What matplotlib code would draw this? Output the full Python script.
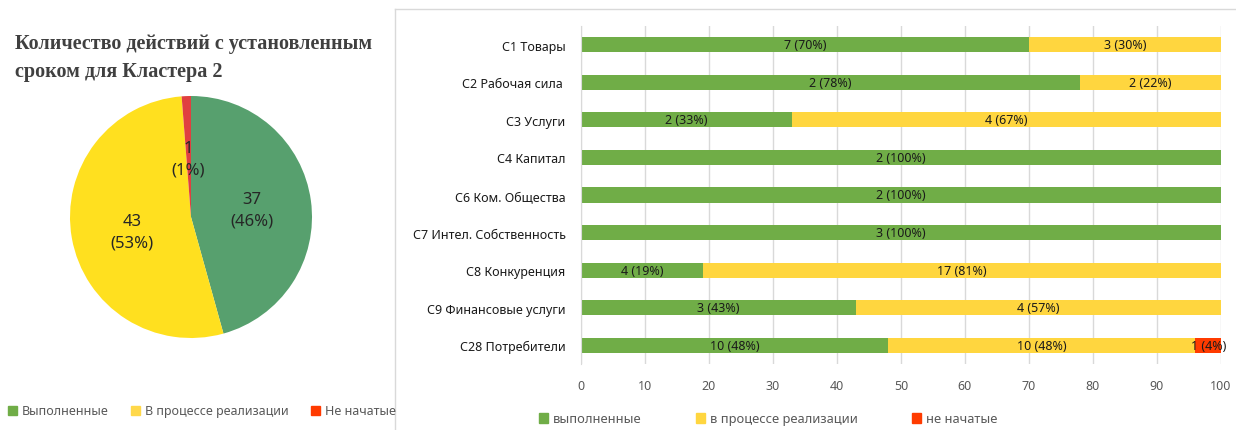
import numpy as np
import matplotlib.pyplot as plt
from matplotlib.patches import Patch
from matplotlib.lines import Line2D

# pie data (cluster 2 totals)
pie_labels = ["Выполненные", "В процессе реализации", "Не начатые"]
pie_values = [37, 43, 1]
pie_pcts = [46, 53, 1]

# bar data: percentage shares and counts per chapter
categories = ["С1 Товары", "С2 Рабочая сила ", "С3 Услуги", "С4 Капитал",
              "С6 Ком. Общества", "С7 Интел. Собственность", "С8 Конкуренция",
              "С9 Финансовые услуги", "С28 Потребители"]
done_pct = [70, 78, 33, 100, 100, 100, 19, 43, 48]
prog_pct = [30, 22, 67, 0, 0, 0, 81, 57, 48]
ns_pct = [0, 0, 0, 0, 0, 0, 0, 0, 4]
done_cnt = [7, 2, 2, 2, 2, 3, 4, 3, 10]
prog_cnt = [3, 2, 4, 0, 0, 0, 17, 4, 10]
ns_cnt = [0, 0, 0, 0, 0, 0, 0, 0, 1]
bar_legend = ["выполненные", "в процессе реализации", "не начатые"]
xticks = [0, 10, 20, 30, 40, 50, 60, 70, 80, 90, 100]

FONT = ["Noto Sans", "DejaVu Sans"]
plt.rcParams["font.family"] = FONT

W, H = 1236, 431
fig = plt.figure(figsize=(W / 100, H / 100), dpi=100)

def box(x0, y0, x1, y1):
    # pixel box (top-left origin) -> figure fraction
    return [x0 / W, 1 - y1 / H, (x1 - x0) / W, (y1 - y0) / H]

# ---- left: pie ----
fig.text(15 / W, 1 - 58 / H, "Количество действий с установленным\nсроком для Кластера 2",
         family=["Liberation Serif"], fontweight="bold", fontsize=14.5, color="#404040",
         va="center", ha="left", linespacing=1.6)

pie_colors = ["#57A06E", "#FFE01F", "#E04040"]
axp = fig.add_axes(box(70, 97, 312, 339))
axp.pie(pie_values, colors=pie_colors, startangle=90, counterclock=False,
        wedgeprops=dict(linewidth=0))
axp.set_xlim(-1, 1)
axp.set_ylim(-1, 1)
axp.set_aspect("equal")
label_pos = [(0.5, 0.06), (-0.49, -0.12), (-0.02, 0.48)]
for v, p, (lx, ly) in zip(pie_values, pie_pcts, label_pos):
    axp.text(lx, ly, f"{v}\n({p}%)", ha="center", va="center", fontsize=12,
             color="#262626", linespacing=1.45)

leg_colors = ["#70AD47", "#FFD84A", "#FF3A00"]
fig.legend(handles=[Patch(color=c, label=l) for c, l in zip(leg_colors, pie_labels)],
           loc="center left", bbox_to_anchor=(-3 / W, 1 - 412 / H), ncol=3, frameon=False,
           handlelength=0.7, handleheight=0.7, handletextpad=0.4, columnspacing=1.8,
           fontsize=9, labelcolor="#595959")

# right panel frame
fig.add_artist(Line2D([395 / W, 1], [1 - 10 / H, 1 - 10 / H], color="#D9D9D9", lw=1))
fig.add_artist(Line2D([395 / W, 395 / W], [0, 1 - 10 / H], color="#D9D9D9", lw=1))

# ---- right: stacked bars ----
ax = fig.add_axes(box(581, 27, 1221, 365))
y = np.arange(len(categories))
bar_colors = ["#70AD47", "#FFD63F", "#FF3B00"]
left = np.zeros(len(categories))
for pcts, cnts, col in zip([done_pct, prog_pct, ns_pct], [done_cnt, prog_cnt, ns_cnt], bar_colors):
    pcts = np.array(pcts, dtype=float)
    ax.barh(y, pcts, left=left, height=0.4, color=col, zorder=2)
    for i in range(len(categories)):
        if pcts[i] > 0:
            ax.text(left[i] + pcts[i] / 2, y[i], f"{cnts[i]} ({int(pcts[i])}%)",
                    ha="center", va="center", fontsize=9, color="#1A1A1A", zorder=3)
    left += pcts

ax.set_xlim(0, 100)
ax.set_ylim(len(categories) - 0.5, -0.5)
ax.set_xticks(xticks)
ax.set_yticks(y)
ax.set_yticklabels(categories)
ax.tick_params(axis="y", length=0, pad=11, labelsize=9, labelcolor="#1A1A1A")
ax.tick_params(axis="x", length=0, pad=11, labelsize=9, labelcolor="#595959")
ax.grid(axis="x", color="#D9D9D9", lw=1, zorder=0)
for s in ["top", "right", "bottom"]:
    ax.spines[s].set_visible(False)
ax.spines["left"].set_color("#D9D9D9")

fig.legend(handles=[Patch(color=c, label=l) for c, l in zip(bar_colors, bar_legend)],
           loc="center left", bbox_to_anchor=(527 / W, 1 - 420 / H), ncol=3, frameon=False,
           handlelength=0.7, handleheight=0.7, handletextpad=0.4, columnspacing=4.2,
           fontsize=9.3, labelcolor="#595959")

fig.savefig("out.png", dpi=100)
